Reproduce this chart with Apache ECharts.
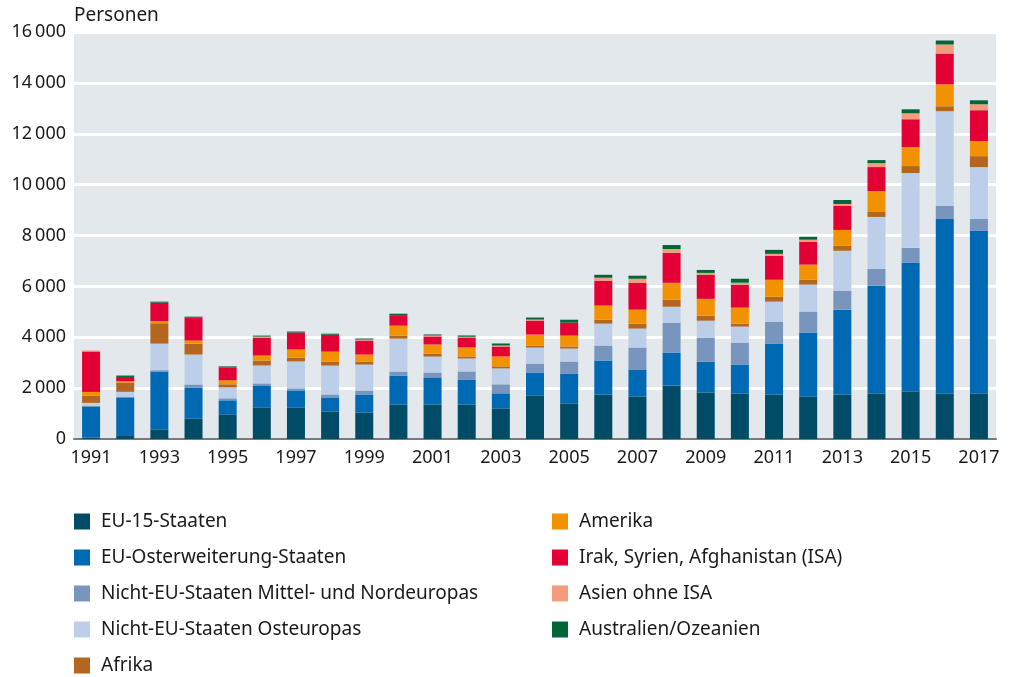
<!DOCTYPE html>
<html>
<head>
<meta charset="utf-8">
<script src="https://cdn.jsdelivr.net/npm/echarts@6/dist/echarts.min.js"></script>
<style>
  html, body { margin: 0; padding: 0; background: #fff; }
  #chart { width: 1012px; height: 677px; }
</style>
</head>
<body>
<div id="chart"></div>
<script>
const years = ['1991','1992','1993','1994','1995','1996','1997','1998','1999','2000','2001','2002','2003','2004','2005','2006','2007','2008','2009','2010','2011','2012','2013','2014','2015','2016','2017'];

const eu15      = [60, 150, 380, 810, 970, 1245, 1245, 1085, 1045, 1360, 1360, 1360, 1205, 1715, 1400, 1750, 1675, 2105, 1830, 1790, 1750, 1675, 1750, 1790, 1870, 1790, 1790];
const euOst     = [1220, 1485, 2275, 1215, 550, 860, 665, 550, 705, 1135, 1060, 980, 590, 900, 1175, 1335, 1060, 1295, 1215, 1140, 2000, 2510, 3335, 4235, 5055, 6860, 6390];
const mittelNord = [30, 30, 50, 120, 80, 80, 80, 115, 155, 155, 195, 315, 355, 350, 470, 590, 860, 1175, 940, 860, 865, 825, 745, 665, 590, 510, 470];
const osteuropa = [110, 190, 1045, 1175, 430, 705, 1060, 1135, 1020, 1295, 625, 510, 625, 630, 510, 860, 745, 625, 665, 630, 785, 1060, 1570, 2040, 2940, 3725, 2040];
const afrika    = [275, 365, 800, 430, 120, 195, 155, 160, 120, 120, 120, 80, 80, 80, 80, 160, 195, 275, 195, 115, 195, 195, 195, 195, 275, 195, 430];
const amerika   = [155, 50, 80, 120, 155, 195, 315, 390, 275, 390, 355, 355, 390, 430, 430, 550, 550, 665, 665, 630, 665, 590, 625, 825, 745, 860, 590];
const isa       = [1590, 170, 730, 900, 510, 705, 665, 665, 550, 390, 315, 390, 390, 550, 510, 980, 1060, 1175, 940, 900, 940, 900, 940, 940, 1095, 1215, 1215];
const asien     = [40, 0, 0, 0, 0, 40, 0, 0, 40, 0, 40, 30, 40, 40, 0, 115, 155, 155, 80, 80, 80, 80, 80, 155, 235, 355, 235];
const ozeanien  = [0, 55, 40, 40, 40, 40, 40, 40, 40, 80, 40, 50, 80, 80, 115, 115, 120, 155, 115, 155, 155, 115, 155, 120, 155, 155, 155];

const seriesDefs = [
  { name: 'EU-15-Staaten', data: eu15, color: '#004b66' },
  { name: 'EU-Osterweiterung-Staaten', data: euOst, color: '#0069b4' },
  { name: 'Nicht-EU-Staaten Mittel- und Nordeuropas', data: mittelNord, color: '#7896bd' },
  { name: 'Nicht-EU-Staaten Osteuropas', data: osteuropa, color: '#bdcfe8' },
  { name: 'Afrika', data: afrika, color: '#b4661f' },
  { name: 'Amerika', data: amerika, color: '#f39200' },
  { name: 'Irak, Syrien, Afghanistan (ISA)', data: isa, color: '#e30034' },
  { name: 'Asien ohne ISA', data: asien, color: '#f39b7b' },
  { name: 'Australien/Ozeanien', data: ozeanien, color: '#00663a' }
];

const font = 'Noto Sans';
const chart = echarts.init(document.getElementById('chart'));

const legendBase = {
  orient: 'vertical',
  top: 512,
  height: 165,
  itemWidth: 16,
  itemHeight: 16,
  itemGap: 17,
  icon: 'rect',
  selectedMode: false,
  padding: 0,
  textStyle: { fontFamily: font, fontSize: 19, color: '#1a1a1a', padding: [0, 0, 0, 6] }
};

chart.setOption({
  animation: false,
  title: {
    text: 'Personen',
    left: 74,
    top: 6,
    padding: 0,
    textStyle: { fontFamily: font, fontSize: 19, fontWeight: 'normal', color: '#1a1a1a' }
  },
  grid: { left: 74, right: 16, top: 32, bottom: 238, containLabel: false,
    backgroundColor: '#e3e8ec', show: true, borderWidth: 0 },
  legend: [
    Object.assign({}, legendBase, { left: 74, data: seriesDefs.slice(0, 5).map(s => s.name) }),
    Object.assign({}, legendBase, { left: 552, data: seriesDefs.slice(5).map(s => s.name) })
  ],
  xAxis: {
    type: 'category',
    data: years,
    axisLine: { lineStyle: { color: '#7a7a7a', width: 2 } },
    axisTick: { show: false },
    axisLabel: {
      interval: 1,
      margin: 10,
      fontFamily: font,
      fontSize: 18,
      color: '#1a1a1a'
    }
  },
  yAxis: {
    type: 'value',
    min: 0,
    max: 16000,
    interval: 2000,
    axisLine: { show: false },
    axisTick: { show: false },
    splitLine: { lineStyle: { color: '#ffffff', width: 3 } },
    axisLabel: {
      margin: 8,
      fontFamily: font,
      fontSize: 18,
      color: '#1a1a1a',
      formatter: v => v >= 1000 ? String(Math.floor(v / 1000)) + '\u2009' + String(v % 1000).padStart(3, '0') : String(v)
    }
  },
  series: seriesDefs.map(s => ({
    name: s.name,
    type: 'bar',
    stack: 'total',
    barWidth: 18,
    itemStyle: { color: s.color },
    data: s.data
  }))
});
</script>
</body>
</html>
